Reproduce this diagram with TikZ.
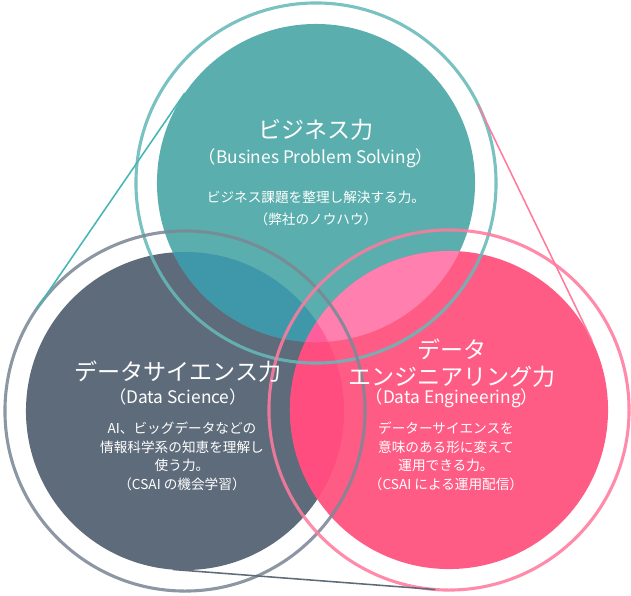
\documentclass[tikz,border=0pt]{standalone}
\usepackage{fontspec}
\setmainfont{Noto Sans CJK JP}
\usetikzlibrary{positioning}
\definecolor{bizfill}{HTML}{5AAFAE}
\definecolor{dsfill}{HTML}{5E6B7A}
\definecolor{defill}{HTML}{FF5C85}
\definecolor{bizds}{HTML}{3F98A9}
\definecolor{bizde}{HTML}{FF80AE}
\definecolor{dsde}{HTML}{FF4D80}
\definecolor{center}{HTML}{FF5E9C}
\definecolor{bizring}{HTML}{66B9B8}
\definecolor{dsring}{HTML}{7D8896}
\definecolor{dering}{HTML}{FF7A9E}
\definecolor{bizline}{HTML}{45B5B5}

\begin{document}
\begin{tikzpicture}[
  x=0.025cm, y=-0.025cm,
  core/.style={radius=3.975cm},
  ring/.style={line width=2.2pt, draw opacity=0.88},
  tangentline/.style={line width=1.1pt},
  title/.style={font=\fontsize{16.4}{19.5}\selectfont, text=white, align=center, inner sep=0pt},
  sub/.style={font=\fontsize{12.3}{13}\selectfont, text=white, align=center, inner sep=0pt},
  body/.style={font=\fontsize{9.7}{13.2}\selectfont, text=white, align=center, inner sep=0pt}
]
\useasboundingbox (0,0) rectangle (631,595);

\coordinate (biz) at (316,183);
\coordinate (ds) at (185,411);
\coordinate (de) at (449,410);

% filled discs
\fill[dsfill] (ds) circle[core];
\fill[bizfill] (biz) circle[core];
\fill[defill] (de) circle[core];
\begin{scope}
  \clip (ds) circle[core];
  \fill[dsde] (de) circle[core];
\end{scope}
\begin{scope}
  \clip (biz) circle[core];
  \fill[bizds] (ds) circle[core];
  \fill[bizde] (de) circle[core];
  \clip (ds) circle[core];
  \fill[center] (de) circle[core];
\end{scope}

% outer rings
\draw[ring, draw=bizring] (biz) circle[radius=4.5cm];
\draw[ring, draw=dsring] (ds) circle[radius=4.5cm];
\draw[ring, draw=dering] (de) circle[radius=4.5cm];

% tangents
\coordinate (bizA) at (184.8,93.0);
\coordinate (dsA) at (36.5,309.1);
\coordinate (bizB) at (478.0,104.7);
\coordinate (deB) at (592.1,340.8);
\coordinate (dsC) at (173.0,569.5);
\coordinate (deC) at (435.4,589.5);
\draw[tangentline, bizline] (bizA) -- (dsA);
\draw[tangentline, dering] (bizB) -- (deB);
\draw[tangentline, dsfill] (dsC) -- (deC);

\node[title] (bizttl) at (316,130) {ビジネス力};
\node[sub] (bizsub) at (316,158) {（Busines Problem Solving）};
\node[body] (biztxt) at (316,208.5) {ビジネス課題を整理し解決する力。\\[3pt]（弊社のノウハウ）};

\node[title] (dsttl) at (178,372) {データサイエンス力};
\node[sub] (dssub) at (178,397) {（Data Science）};
\node[body] (dstxt) at (182,456.5) {AI、ビッグデータなどの\\情報科学系の知恵を理解し\\使う力。\\（CSAI の機会学習）};

\node[title] (dettl) at (452,363) {データ\\エンジニアリング力};
\node[sub] (desub) at (452,398) {（Data Engineering）};
\node[body] (detxt) at (446,456.5) {データーサイエンスを\\意味のある形に変えて\\運用できる力。\\（CSAI による運用配信）};

\end{tikzpicture}
\end{document}
